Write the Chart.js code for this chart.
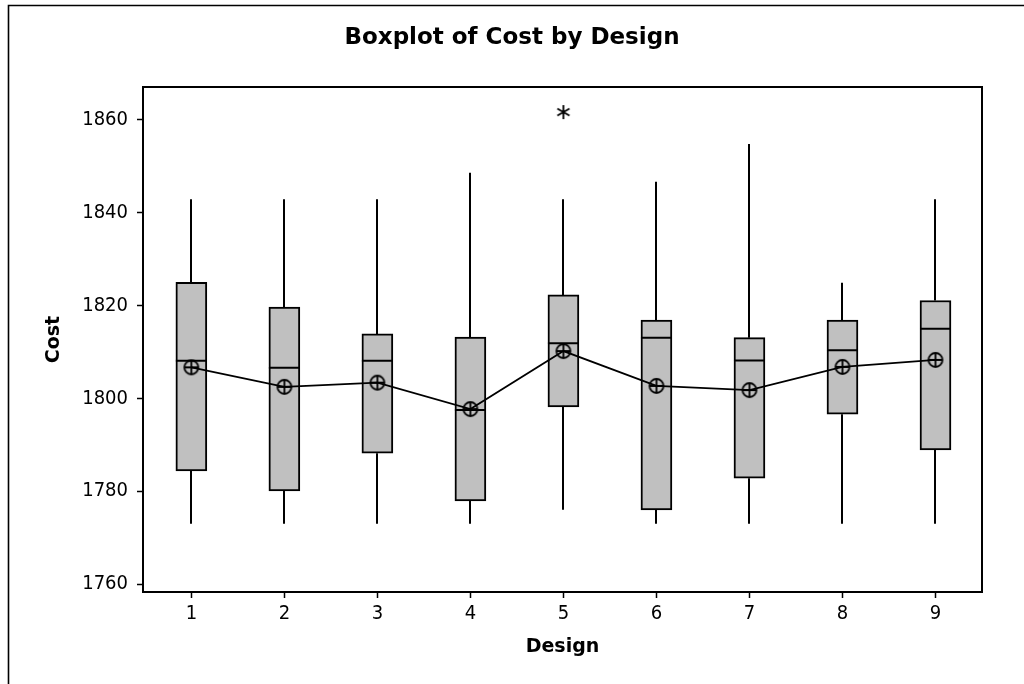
<!DOCTYPE html>
<html><head><meta charset="utf-8">
<script src="https://cdn.jsdelivr.net/npm/chart.js@4/dist/chart.umd.min.js"></script>
<style>html,body{margin:0;padding:0;background:#fff;overflow:hidden}</style>
</head><body>
<canvas id="c" width="1024" height="684" style="display:block;width:1024px;height:684px"></canvas>
<script>
const designs = [1, 2, 3, 4, 5, 6, 7, 8, 9];
const q1Values = [1784.4, 1780.1, 1788.2, 1777.9, 1798.2, 1776.0, 1782.8, 1796.6, 1788.9];
const q3Values = [1825.0, 1819.7, 1813.9, 1813.2, 1822.3, 1816.9, 1813.1, 1816.9, 1821.1];
const medianValues = [1808.1, 1806.6, 1808.1, 1797.5, 1811.9, 1813.1, 1808.2, 1810.4, 1815.0];
const meanValues = [1806.7, 1802.5, 1803.4, 1797.7, 1810.2, 1802.7, 1801.8, 1806.8, 1808.3];
const whiskerLow = [1773, 1773, 1773, 1773, 1776.0, 1773, 1773, 1773, 1773];
const whiskerHigh = [1842.9, 1842.9, 1842.9, 1848.6, 1842.9, 1846.7, 1854.8, 1824.9, 1842.9];
const outlierDesigns = [5];
const outlierValues = [1861.7];
const yTicks = [1760, 1780, 1800, 1820, 1840, 1860];
const xTicks = [1, 2, 3, 4, 5, 6, 7, 8, 9];

const BOX_W = 31;
const TICK_FONT = {family: '"DejaVu Sans Condensed", "DejaVu Sans", sans-serif', size: 20};
const BOLD = '"DejaVu Sans", sans-serif';

function meanSymbol() {
  const c = document.createElement('canvas');
  c.width = 18; c.height = 18;
  const g = c.getContext('2d');
  g.strokeStyle = '#000'; g.lineWidth = 1.8;
  g.beginPath(); g.arc(9, 9, 7, 0, Math.PI * 2); g.stroke();
  g.beginPath(); g.moveTo(2, 9); g.lineTo(16, 9); g.moveTo(9, 2); g.lineTo(9, 16); g.stroke();
  return c;
}
function starSymbol() {
  const c = document.createElement('canvas');
  c.width = 18; c.height = 18;
  const g = c.getContext('2d');
  g.strokeStyle = '#000'; g.lineWidth = 1.8;
  g.beginPath();
  for (let i = 0; i < 3; i++) {
    const a = Math.PI / 2 + i * Math.PI / 3;
    g.moveTo(9 + 7 * Math.cos(a), 9 + 7 * Math.sin(a));
    g.lineTo(9 - 7 * Math.cos(a), 9 - 7 * Math.sin(a));
  }
  g.stroke();
  return c;
}

const boxExtras = {
  id: 'boxExtras',
  beforeDraw(chart) {
    const ctx = chart.ctx;
    ctx.save();
    ctx.fillStyle = '#fff';
    ctx.fillRect(0, 0, chart.width, chart.height);
    ctx.strokeStyle = '#000';
    ctx.lineWidth = 1.6;
    ctx.beginPath();
    ctx.moveTo(8.5, chart.height);
    ctx.lineTo(8.5, 5.5);
    ctx.lineTo(chart.width, 5.5);
    ctx.stroke();
    ctx.restore();
  },
  beforeDatasetsDraw(chart) {
    const ctx = chart.ctx, xs = chart.scales.x, ys = chart.scales.y;
    ctx.save();
    ctx.strokeStyle = '#000';
    ctx.lineWidth = 2;
    ctx.beginPath();
    designs.forEach((d, i) => {
      const x = Math.round(xs.getPixelForValue(d));
      ctx.moveTo(x, ys.getPixelForValue(whiskerHigh[i]));
      ctx.lineTo(x, ys.getPixelForValue(q3Values[i]));
      ctx.moveTo(x, ys.getPixelForValue(q1Values[i]));
      ctx.lineTo(x, ys.getPixelForValue(whiskerLow[i]));
    });
    ctx.stroke();
    ctx.restore();
  },
  afterDatasetDraw(chart, args) {
    if (args.index !== 0) return;
    const ctx = chart.ctx, xs = chart.scales.x, ys = chart.scales.y;
    ctx.save();
    ctx.strokeStyle = '#000';
    ctx.lineWidth = 2;
    ctx.beginPath();
    designs.forEach((d, i) => {
      const x = xs.getPixelForValue(d);
      const y = ys.getPixelForValue(medianValues[i]);
      ctx.moveTo(x - BOX_W / 2, y);
      ctx.lineTo(x + BOX_W / 2, y);
    });
    ctx.stroke();
    ctx.restore();
  },
  afterDraw(chart) {
    const ctx = chart.ctx, a = chart.chartArea;
    ctx.save();
    ctx.strokeStyle = '#000';
    ctx.lineWidth = 2;
    ctx.strokeRect(a.left, a.top, a.right - a.left, a.bottom - a.top);
    ctx.restore();
  }
};

new Chart(document.getElementById('c'), {
  data: {
    datasets: [
      {
        type: 'bar',
        order: 3,
        data: designs.map((d, i) => ({x: d, y: [q1Values[i], q3Values[i]]})),
        backgroundColor: '#c0c0c0',
        borderColor: '#000',
        borderWidth: 2,
        borderSkipped: false,
        barThickness: BOX_W,
        grouped: false
      },
      {
        type: 'line',
        order: 1,
        data: designs.map((d, i) => ({x: d, y: meanValues[i]})),
        borderColor: '#000',
        borderWidth: 1.8,
        pointStyle: meanSymbol(),
        tension: 0
      },
      {
        type: 'scatter',
        order: 2,
        data: outlierDesigns.map((d, i) => ({x: d, y: outlierValues[i]})),
        pointStyle: starSymbol()
      }
    ]
  },
  options: {
    responsive: false,
    animation: false,
    events: [],
    layout: {padding: 0},
    plugins: {
      legend: {display: false},
      tooltip: {enabled: false},
      title: {
        display: true,
        text: 'Boxplot of Cost by Design',
        color: '#000',
        font: {family: BOLD, size: 23, weight: 'bold', lineHeight: 1.2},
        padding: {top: 24, bottom: 35.4}
      }
    },
    scales: {
      x: {
        type: 'linear',
        min: 0.48,
        max: 9.5,
        offset: false,
        afterBuildTicks: s => { s.ticks = xTicks.map(v => ({value: v})); },
        afterFit: s => { s.height = 92; },
        grid: {display: true, offset: false, drawOnChartArea: false, drawTicks: true, tickLength: 6, tickColor: '#000', tickWidth: 1.5},
        border: {display: false},
        ticks: {color: '#000', font: TICK_FONT, padding: 4, maxRotation: 0, autoSkip: false},
        title: {display: true, text: 'Design', color: '#000', font: {family: BOLD, size: 19, weight: 'bold', lineHeight: 1.2}, padding: {top: 0, bottom: 25.6}}
      },
      y: {
        type: 'linear',
        position: 'left',
        min: 1758.3,
        max: 1867.1,
        afterBuildTicks: s => { s.ticks = yTicks.map(v => ({value: v})); },
        afterFit: s => { s.width = 143; },
        grid: {display: true, drawOnChartArea: false, drawTicks: true, tickLength: 6, tickColor: '#000', tickWidth: 1.5},
        border: {display: false},
        ticks: {color: '#000', font: TICK_FONT, padding: 9, callback: v => String(v)},
        title: {display: true, text: 'Cost', color: '#000', font: {family: BOLD, size: 19, weight: 'bold', lineHeight: 1.2}, padding: {top: 42.6, bottom: 0}}
      },
      yRight: {
        type: 'linear',
        position: 'right',
        min: 1758.3,
        max: 1867.1,
        afterFit: s => { s.width = 42; },
        grid: {display: false},
        border: {display: false},
        ticks: {display: false}
      }
    }
  },
  plugins: [boxExtras]
});
</script>
</body></html>
